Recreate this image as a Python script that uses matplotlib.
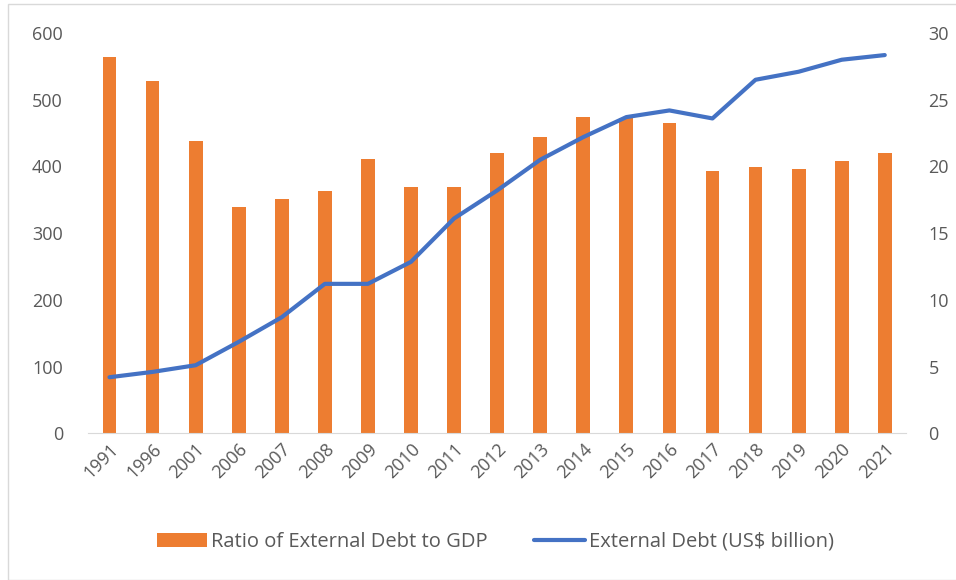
import matplotlib
matplotlib.use("Agg")
import matplotlib.pyplot as plt
from matplotlib.patches import Rectangle

years = ["1991", "1996", "2001", "2006", "2007", "2008", "2009", "2010", "2011", "2012",
         "2013", "2014", "2015", "2016", "2017", "2018", "2019", "2020", "2021"]
ratio_debt_gdp = [564, 528, 438, 339, 351, 363, 411, 369, 369, 420,
                  444, 474, 473, 465, 393, 399, 396, 408, 420]
external_debt = [4.2, 4.6, 5.1, 6.85, 8.7, 11.2, 11.2, 12.85, 16.1, 18.2,
                 20.5, 22.2, 23.7, 24.2, 23.6, 26.5, 27.1, 28.0, 28.35]

orange = "#ED7D31"
blue = "#4472C4"
gray = "#595959"

plt.rcParams['font.family'] = ['Open Sans', 'DejaVu Sans']

fig = plt.figure(figsize=(9.56, 5.8), dpi=100)
ax = fig.add_axes([0.092, 0.253, 0.856, 0.69])
x = list(range(len(years)))
ax.bar(x, ratio_debt_gdp, width=0.32, color=orange, label="Ratio of External Debt to GDP", zorder=2)
ax.set_ylim(0, 600)
ax.set_xlim(-0.5, len(years) - 0.5)
ax.set_yticks(range(0, 601, 100))
ax.set_xticks(x)
ax.set_xticklabels(years, rotation=45, ha="right", rotation_mode="anchor")

ax2 = ax.twinx()
ax2.plot(x, external_debt, color=blue, lw=3.0, label="External Debt (US$ billion)",
         solid_capstyle="round", solid_joinstyle="round", zorder=3)
ax2.set_ylim(0, 30)
ax2.set_yticks(range(0, 31, 5))

for a in (ax, ax2):
    for s in a.spines.values():
        s.set_visible(False)
    a.tick_params(length=0, colors=gray, labelsize=13)
ax.spines["bottom"].set_visible(True)
ax.spines["bottom"].set_color("#D9D9D9")
ax.tick_params(axis="y", pad=18)
ax2.tick_params(axis="y", pad=16)
ax.tick_params(axis="x", pad=5)

h1, l1 = ax.get_legend_handles_labels()
h2, l2 = ax2.get_legend_handles_labels()
fig.legend(h1 + h2, l1 + l2, loc="center", bbox_to_anchor=(0.518, 0.066), ncol=2,
           frameon=False, fontsize=14.5, labelcolor=gray, handlelength=2.5,
           columnspacing=2.3, handletextpad=0.2)

fig.patches.append(Rectangle((0.008, 0.0), 1.0, 0.993, transform=fig.transFigure,
                             fill=False, edgecolor="#D9D9D9", lw=1))

fig.savefig("out.png", dpi=100)
